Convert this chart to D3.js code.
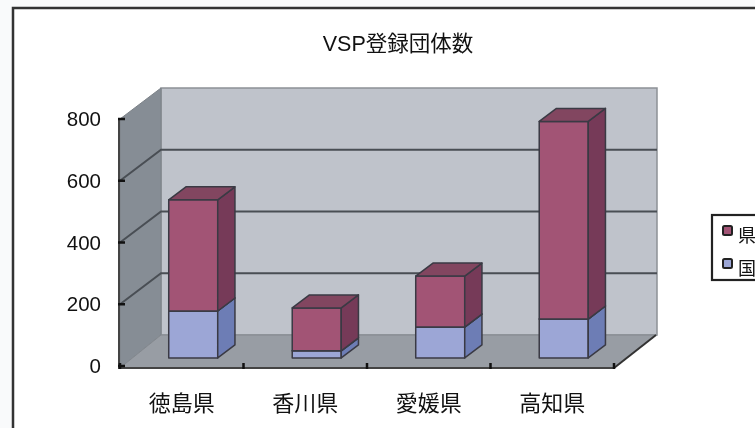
<!DOCTYPE html>
<html>
<head>
<meta charset="utf-8">
<script src="https://cdn.jsdelivr.net/npm/d3@7"></script>
<style>
  html, body { margin: 0; padding: 0; background: #f9fafb; overflow: hidden; }
  svg { display: block; filter: blur(0.6px); }
  text { font-family: "Liberation Sans", "Noto Sans CJK JP", sans-serif; fill: #111; }
</style>
</head>
<body>
<svg id="chart" width="755" height="428"></svg>
<script>
const categories = ["徳島県", "香川県", "愛媛県", "高知県"];
const kuni = [152, 23, 100, 126];
const ken = [360, 139, 165, 640];
const yTicks = [0, 200, 400, 600, 800];
const legendLabels = ["県", "国"];

const svg = d3.select("#chart");

// frame round the chart, runs off the window on the right and bottom
svg.append("rect")
    .attr("x", 13).attr("y", 8)
    .attr("width", 800).attr("height", 500)
    .style("fill", "#fff").style("stroke", "#333").style("stroke-width", 2.5);

svg.append("text")
    .attr("x", 398).attr("y", 51)
    .attr("text-anchor", "middle")
    .style("font-size", "21.5px")
    .text("VSP登録団体数");

const x = d3.scaleBand().domain(categories).range([120, 614]);
const y = d3.scaleLinear().domain([0, 800]).range([366, 119]);

// depth goes from 0 (front) to 1 (back wall)
const depthX = 41, depthY = 31;
function px(v, d) { return v + d * depthX; }
function py(v, d) { return v - d * depthY; }
function poly(points) {
    return points.map(function (p) { return p.join(","); }).join(" ");
}

const walls = svg.append("g");
const x0 = x.range()[0], x1 = x.range()[1];
const yTop = y(800), yBase = y(0);

walls.append("polygon") // back wall
    .attr("points", poly([[px(x0, 1), py(yTop, 1)], [px(x1, 1) + 2, py(yTop, 1)], [px(x1, 1) + 2, py(yBase, 1)], [px(x0, 1), py(yBase, 1)]]))
    .style("fill", "#bfc3cb").style("stroke", "#8d9197").style("stroke-width", 1.5);
walls.append("polygon") // left wall
    .attr("points", poly([[x0, yTop], [px(x0, 1), py(yTop, 1)], [px(x0, 1), py(yBase, 1)], [x0, yBase + 2]]))
    .style("fill", "#868d95").style("stroke", "#7c8288").style("stroke-width", 1);
walls.append("polygon") // floor
    .attr("points", poly([[x0, yBase + 2], [px(x0, 1), py(yBase, 1)], [px(x1, 1) + 1, py(yBase, 1)], [x1, yBase + 2]]))
    .style("fill", "#989da4").style("stroke", "#83888e").style("stroke-width", 1);

// gridlines bend at the corner of left and back wall
walls.selectAll("polyline.grid")
    .data(yTicks.filter(function (d) { return d > 0 && d < 800; }))
    .enter().append("polyline")
    .attr("class", "grid")
    .attr("points", function (d) {
        return poly([[x0, y(d)], [px(x0, 1), py(y(d), 1)], [px(x1, 1) + 2, py(y(d), 1)]]);
    })
    .style("fill", "none").style("stroke", "#494e54").style("stroke-width", 2);

// axes
const axisG = svg.append("g");
axisG.append("line")
    .attr("x1", x0 - 1).attr("y1", yTop - 1).attr("x2", x0 - 1).attr("y2", yBase + 2)
    .style("stroke", "#444").style("stroke-width", 2);
axisG.append("line")
    .attr("x1", x0 - 2).attr("y1", yBase + 2).attr("x2", x1).attr("y2", yBase + 2)
    .style("stroke", "#444").style("stroke-width", 2);
axisG.append("line")
    .attr("x1", x1).attr("y1", yBase + 2).attr("x2", px(x1, 1) + 1).attr("y2", py(yBase, 1))
    .style("stroke", "#333").style("stroke-width", 2);

axisG.selectAll("line.ytick")
    .data(yTicks).enter().append("line")
    .attr("class", "ytick")
    .attr("x1", x0 - 2).attr("x2", x0 + 5)
    .attr("y1", function (d) { return y(d); })
    .attr("y2", function (d) { return y(d); })
    .style("stroke", "#111").style("stroke-width", 2.5);
axisG.selectAll("text.ylab")
    .data(yTicks).enter().append("text")
    .attr("class", "ylab")
    .attr("x", 101).attr("y", function (d) { return y(d) + 7; })
    .attr("text-anchor", "end")
    .style("font-size", "20.5px")
    .text(function (d) { return d; });

axisG.selectAll("line.xtick")
    .data(categories.concat([null])).enter().append("line")
    .attr("class", "xtick")
    .attr("x1", function (d, i) { return x0 + i * x.step(); })
    .attr("x2", function (d, i) { return x0 + i * x.step(); })
    .attr("y1", yBase - 3).attr("y2", yBase + 3)
    .style("stroke", "#111").style("stroke-width", 2.5);
axisG.selectAll("text.xlab")
    .data(categories).enter().append("text")
    .attr("class", "xlab")
    .attr("x", function (d) { return x(d) + x.bandwidth() / 2; })
    .attr("y", 411)
    .attr("text-anchor", "middle")
    .style("font-size", "22px")
    .text(function (d) { return d; });

// stacked 3d bars
const barWidth = 49;
const front = 0.28, back = 0.7;
const segs = [
    { values: kuni, base: null, face: "#9ca6d6", side: "#6d7db5", top: "#8490c4" },
    { values: ken, base: kuni, face: "#a25475", side: "#763a58", top: "#824660" }
];

segs.forEach(function (s) {
    const g = svg.append("g");
    const bars = g.selectAll("g").data(categories).enter().append("g")
        .style("stroke", "#3a3a44").style("stroke-width", 1.5).style("stroke-linejoin", "round");

    function xl(c) { return px(x(c) + x.bandwidth() / 2 - barWidth / 2, front); }
    function v0(i) { return s.base ? s.base[i] : 0; }
    function v1(i) { return v0(i) + s.values[i]; }
    const dx = (back - front) * depthX, dy = (back - front) * depthY;

    bars.append("polygon")
        .attr("points", function (c, i) {
            const a = py(y(v0(i)), 0.26), b = py(y(v1(i)), 0.26), l = xl(c);
            return poly([[l, b], [l + barWidth, b], [l + barWidth, a], [l, a]]);
        })
        .style("fill", s.face);
    bars.append("polygon")
        .attr("points", function (c, i) {
            const a = py(y(v0(i)), 0.26), b = py(y(v1(i)), 0.26), r = xl(c) + barWidth;
            return poly([[r, b], [r + dx, b - dy], [r + dx, a - dy], [r, a]]);
        })
        .style("fill", s.side);
    bars.append("polygon")
        .attr("points", function (c, i) {
            const b = py(y(v1(i)), 0.26), l = xl(c);
            return poly([[l, b], [l + dx, b - dy], [l + barWidth + dx, b - dy], [l + barWidth, b]]);
        })
        .style("fill", s.top);
});

// legend, clipped by the window on the right like the original
const legend = svg.append("g");
legend.append("rect")
    .attr("x", 712).attr("y", 215)
    .attr("width", 80).attr("height", 65)
    .style("fill", "#fff").style("stroke", "#222").style("stroke-width", 2.2);
const legendColors = [segs[1].face, segs[0].face];
legend.selectAll("rect.swatch")
    .data(legendLabels).enter().append("rect")
    .attr("class", "swatch")
    .attr("x", 723)
    .attr("y", function (d, i) { return 226 + i * 33; })
    .attr("width", 9).attr("height", 9).attr("rx", 1.5)
    .style("fill", function (d, i) { return legendColors[i]; })
    .style("stroke", "#222").style("stroke-width", 2);
legend.selectAll("text")
    .data(legendLabels).enter().append("text")
    .attr("x", 738)
    .attr("y", function (d, i) { return 242 + i * 33; })
    .style("font-size", "18px")
    .text(function (d) { return d; });
</script>
</body>
</html>
